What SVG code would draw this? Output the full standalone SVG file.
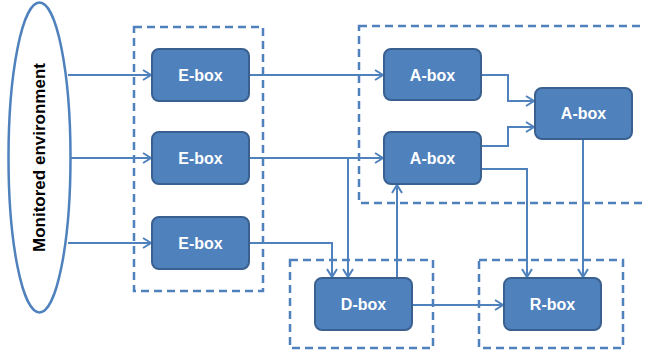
<svg xmlns="http://www.w3.org/2000/svg" width="645" height="353" viewBox="0 0 645 353">
<defs>
<style>
.box{fill:#4F81BD;stroke:#3A6090;stroke-width:2}
.lbl{font-family:"Liberation Sans",Arial,sans-serif;font-weight:bold;font-size:16px;fill:#fff;text-anchor:middle;dominant-baseline:central}
.dash{fill:none;stroke:#4F81BD;stroke-width:2.5;stroke-dasharray:8,5}
.con{fill:none;stroke:#4F81BD;stroke-width:2;marker-end:url(#arr)}
</style>
<marker id="arr" markerWidth="12" markerHeight="12" refX="10" refY="6" orient="auto" markerUnits="userSpaceOnUse">
<path d="M2,1 L10,6 L2,11" fill="none" stroke="#4F81BD" stroke-width="2"/>
</marker>
</defs>
<rect width="645" height="353" fill="#fff"/>
<g id="groups">
<rect class="dash" x="134" y="27" width="129" height="264"/>
<rect class="dash" x="359" y="26" width="300" height="177"/>
<rect class="dash" x="290" y="260" width="143" height="88"/>
<rect class="dash" x="479" y="260" width="144" height="88"/>
</g>
<g id="env">
<ellipse cx="39.5" cy="157.5" rx="31" ry="155" fill="#fff" stroke="#4F81BD" stroke-width="2.5"/>
<text x="39.5" y="157.5" transform="rotate(-90 39.5 157.5)" font-family="'Liberation Sans',Arial,sans-serif" font-weight="bold" font-size="17" text-anchor="middle" dominant-baseline="central" fill="#000">Monitored environment</text>
</g>
<g id="connectors">
<path class="con" d="M68,75 H151"/>
<path class="con" d="M71,158 H151"/>
<path class="con" d="M68,243 H151"/>
<path class="con" d="M249,75 H383"/>
<path class="con" d="M249,158 H383"/>
<path class="con" d="M348,158 V277"/>
<path class="con" d="M249,243 H332 V277"/>
<path class="con" d="M397,278 V185"/>
<path class="con" d="M412,305 H503"/>
<path class="con" d="M481,75 H508 V101 H534"/>
<path class="con" d="M481,146 H508 V127 H534"/>
<path class="con" d="M481,169 H527 V277"/>
<path class="con" d="M583,139 V277"/>
</g>
<g id="e1"><rect class="box" x="152" y="49" width="97" height="52" rx="7"/><text class="lbl" x="200.5" y="75">E-box</text></g>
<g id="e2"><rect class="box" x="152" y="132" width="97" height="52" rx="7"/><text class="lbl" x="200.5" y="158">E-box</text></g>
<g id="e3"><rect class="box" x="152" y="217" width="97" height="52" rx="7"/><text class="lbl" x="200.5" y="243">E-box</text></g>
<g id="a1"><rect class="box" x="384" y="49" width="97" height="51" rx="7"/><text class="lbl" x="432.5" y="75">A-box</text></g>
<g id="a2"><rect class="box" x="384" y="132" width="97" height="52" rx="7"/><text class="lbl" x="432.5" y="158">A-box</text></g>
<g id="a3"><rect class="box" x="535" y="88" width="97" height="51" rx="7"/><text class="lbl" x="583.5" y="113.5">A-box</text></g>
<g id="d"><rect class="box" x="315" y="278" width="97" height="52" rx="7"/><text class="lbl" x="363.5" y="304">D-box</text></g>
<g id="r"><rect class="box" x="504" y="278" width="97" height="52" rx="7"/><text class="lbl" x="552.5" y="304">R-box</text></g>
</svg>
